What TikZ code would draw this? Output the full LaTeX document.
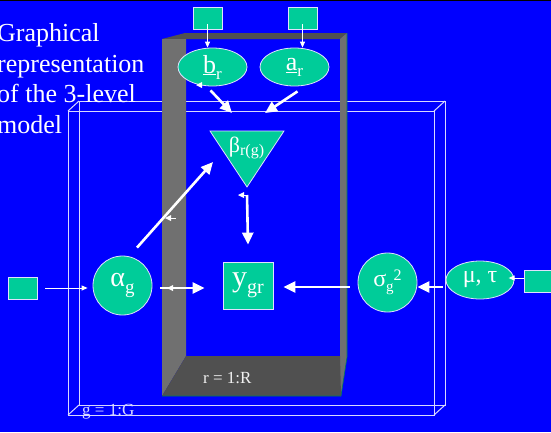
\documentclass[tikz,border=0pt]{standalone}
\usepackage{fontspec}
\setmainfont{Liberation Serif}
\usetikzlibrary{arrows.meta,shapes.geometric}
\definecolor{bgblue}{HTML}{0000FF}
\definecolor{tealfill}{HTML}{00CC99}
\definecolor{wallL}{HTML}{707070}
\definecolor{wallD}{HTML}{505050}
\definecolor{edgeW}{HTML}{E0E0FF}
\definecolor{plateW}{HTML}{D8D8FF}
\newcommand\setfsz[1]{\fontsize{#1}{#1}\selectfont}
\newcommand\lowtxt[3]{\raisebox{-#2pt}{\setfsz{#1}#3}}
\newcommand\uptxt[3]{\raisebox{#2pt}{\setfsz{#1}#3}}
\begin{document}
\begin{tikzpicture}[x=1pt,y=-1pt,
  vnode/.style={fill=tealfill, draw=edgeW, line width=0.8pt, inner sep=0pt, text=white},
  sqnode/.style={vnode, rectangle, minimum width=29pt, minimum height=22pt},
  thickarr/.style={draw=white, line width=2.6pt, -{Triangle[length=12pt,width=11pt]}},
  thinarr/.style={draw=white, line width=1pt, -{Triangle[length=6pt,width=5pt]}},
  titletxt/.style={anchor=base west, inner sep=0pt, text=white, font=\setfsz{26}},
  lbltxt/.style={anchor=base west, inner sep=0pt, font=\setfsz{17}},
]
\useasboundingbox (0,0) rectangle (551,432);
\clip (0,0) rectangle (551,432);
\fill[bgblue] (0,0) rectangle (551,432);
\fill[black] (0,0) rectangle (551,1.3);

% plate g = 1:G
\begin{scope}[draw=plateW, line width=1pt]
  \draw (68,111) rectangle (434,415);
  \draw (79,101) rectangle (445,405);
  \draw (68,111) -- (79,101);
  \draw (434,111) -- (445,101);
  \draw (68,415) -- (79,405);
  \draw (434,415) -- (445,405);
\end{scope}

% plate r = 1:R (grey box)
\fill[wallD] (162,39) -- (185,33) -- (347,33) -- (340,39) -- cycle;
\fill[wallL] (162,39) -- (186,39) -- (186,356) -- (162,396) -- cycle;
\fill[wallL] (340,39) -- (347,33) -- (347,357) -- (341,396) -- (340,396) -- cycle;
\fill[wallD] (162,396) -- (186,356) -- (340,356) -- (341,396) -- cycle;
\draw[tealfill!60!black, line width=0.6pt] (162,396) -- (341,396) -- (347,357) -- (347,33);

% nodes
\node[sqnode] (sqL) at (207.5,18) {};
\node[sqnode] (sqR) at (302.5,18) {};
\node[sqnode] (sqA) at (22.5,288) {};
\node[sqnode] (sqM) at (538.5,281) {};
\node[vnode, ellipse, minimum width=69pt, minimum height=38pt] (br) at (212.5,67)
  {\setfsz{26}\underline{b}\lowtxt{17}{6}{r}};
\node[vnode, ellipse, minimum width=69pt, minimum height=38pt] (ar) at (294.5,67)
  {\setfsz{26}\underline{a}\lowtxt{17}{6}{r}};
\filldraw[fill=tealfill, draw=edgeW, line width=0.8pt] (210,131) -- (284,131) -- (247,187) -- cycle;
\coordinate (apex) at (247,187);
\node[inner sep=0pt, text=white, anchor=base] (beta) at (246.5,152)
  {\setfsz{22}β\lowtxt{16}{3}{r(g)}};
\node[vnode, circle, minimum size=59pt] (alpha) at (122.5,285.5)
  {\setfsz{28}α\lowtxt{19}{7}{g}};
\node[vnode, rectangle, minimum width=50pt, minimum height=47pt] (y) at (248,285.5)
  {\setfsz{30}y\lowtxt{20}{7}{gr}};
\node[vnode, circle, minimum size=59pt] (sigma) at (387.5,282.5)
  {\setfsz{24}σ\lowtxt{15}{5}{g}\uptxt{16}{6}{2}};
\node[vnode, ellipse, minimum width=68pt, minimum height=38pt] (mu) at (480,280)
  {\setfsz{24}μ, τ};

\coordinate (bt) at (232,113);
\coordinate (at) at (265,113);
\coordinate (abt) at (213,162);

% connectors
\draw[thinarr] ([yshift=-6pt]sqL.center) -- (sqL.center |- br.north);
\draw[thinarr] ([yshift=-6pt]sqR.center) -- (sqR.center |- ar.north);
\draw[thickarr] ([xshift=-2pt,yshift=-4pt]br.south) -- (bt);
\draw[thickarr] ([xshift=3pt,yshift=-5pt]ar.south) -- (at);
\draw[thickarr] ([xshift=14.5pt,yshift=8pt]alpha.north) -- (abt);
\draw[thickarr] ([yshift=-8pt]apex) -- ([yshift=17pt]y.north);
\draw[thinarr] ([xshift=8pt]sqA.east) -- ([xshift=-5pt]sqA.east -| alpha.west);
\draw[thickarr] ([xshift=8pt,yshift=-2.5pt]alpha.east) -- ([xshift=-18pt,yshift=-2.5pt]y.west);
\draw[thickarr] ([xshift=-8pt,yshift=-4.5pt]sigma.west) -- ([xshift=10pt,yshift=-1.5pt]y.east);
\draw[thickarr] ([xshift=-3pt,yshift=-7pt]mu.west) -- ([yshift=-4.5pt]sigma.east);
\draw[thinarr] ([yshift=3pt]sqM.west) -- ([xshift=-15pt,yshift=3pt]sqM.west);

% small stray arrow tips
\fill[white] (196,85) -- (202,82) -- (202,88) -- cycle;
\fill[white] (165,218) -- (171,215) -- (171,221) -- cycle;
\draw[white, line width=1pt] (171,218) -- (176,218);
\fill[white] (238,195) -- (244,192) -- (244,198) -- cycle;
\draw[white, line width=1pt] (244,195) -- (247,195);
\fill[white] (167,288) -- (173,285) -- (173,291) -- cycle;

% labels
\node[lbltxt, text=white!90!gray] (rlab) at (203,383) {r = 1:R};
\node[lbltxt, text=plateW] (glab) at (82,415) {g = 1:G};

% title
\node[titletxt] (t1) at (-3,41) {Graphical};
\node[titletxt] (t2) at (-3,72) {representation};
\node[titletxt] (t3) at (-3,102) {of the 3-level};
\node[titletxt] (t4) at (-3,133) {model};
\end{tikzpicture}
\end{document}
